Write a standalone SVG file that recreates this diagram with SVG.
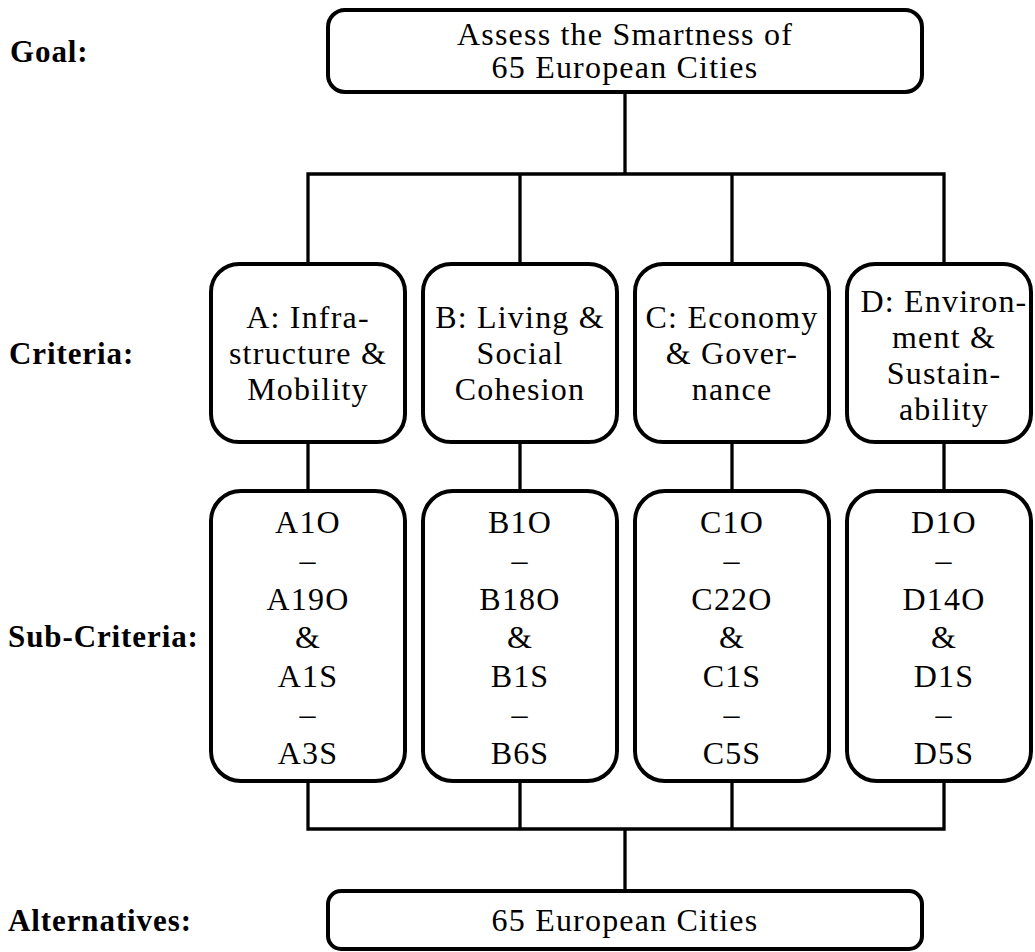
<svg xmlns="http://www.w3.org/2000/svg" width="1035" height="952" viewBox="0 0 1035 952">
<style>
.box{fill:#fff;stroke:#000;stroke-width:4}
.t{font-family:"Liberation Serif","Times New Roman",serif;font-size:32px;letter-spacing:1.2px;text-anchor:middle;fill:#000}
.lbl{font-family:"Liberation Serif","Times New Roman",serif;font-size:31px;font-weight:bold;letter-spacing:0.9px;fill:#000}
.con{fill:none;stroke:#000;stroke-width:3.3;stroke-linecap:square}
</style>
<rect width="1035" height="952" fill="#fff"/>
<g id="labels">
<text class="lbl" x="10" y="62">Goal:</text>
<text class="lbl" x="9" y="364">Criteria:</text>
<text class="lbl" x="8" y="647">Sub-Criteria:</text>
<text class="lbl" x="8" y="931">Alternatives:</text>
</g>
<g id="connectors">
<path class="con" d="M625 93V174M308 174H944M308 174V264M520 174V264M732 174V264M944 174V264"/>
<path class="con" d="M308 442V491M520 442V491M732 442V491M944 442V491"/>
<path class="con" d="M308 781V829M520 781V829M732 781V829M944 781V829M308 829H944M625 829V891"/>
</g>
<g id="goal">
<rect class="box" x="328" y="10" width="594" height="82" rx="17"/>
<text class="t" x="625" y="45">Assess the Smartness of</text>
<text class="t" x="625" y="78">65 European Cities</text>
</g>
<g id="critA">
<rect class="box" x="211" y="264" width="194" height="178" rx="28"/>
<text class="t" x="308" y="328">A: Infra-</text>
<text class="t" x="308" y="364">structure &amp;</text>
<text class="t" x="308" y="400">Mobility</text>
</g>
<g id="critB">
<rect class="box" x="423" y="264" width="194" height="178" rx="28"/>
<text class="t" x="520" y="328">B: Living &amp;</text>
<text class="t" x="520" y="364">Social</text>
<text class="t" x="520" y="400">Cohesion</text>
</g>
<g id="critC">
<rect class="box" x="635" y="264" width="194" height="178" rx="28"/>
<text class="t" x="732" y="328">C: Economy</text>
<text class="t" x="732" y="364">&amp; Gover-</text>
<text class="t" x="732" y="400">nance</text>
</g>
<g id="critD">
<rect class="box" x="847" y="264" width="184" height="178" rx="28"/>
<text class="t" x="944" y="312">D: Environ-</text>
<text class="t" x="944" y="348">ment &amp;</text>
<text class="t" x="944" y="384">Sustain-</text>
<text class="t" x="944" y="420">ability</text>
</g>
<g id="subA">
<rect class="box" x="211" y="491" width="194" height="290" rx="30"/>
<text class="t" x="308" y="533">A1O</text>
<text class="t" x="308" y="571">–</text>
<text class="t" x="308" y="610">A19O</text>
<text class="t" x="308" y="648">&amp;</text>
<text class="t" x="308" y="687">A1S</text>
<text class="t" x="308" y="725">–</text>
<text class="t" x="308" y="764">A3S</text>
</g>
<g id="subB">
<rect class="box" x="423" y="491" width="194" height="290" rx="30"/>
<text class="t" x="520" y="533">B1O</text>
<text class="t" x="520" y="571">–</text>
<text class="t" x="520" y="610">B18O</text>
<text class="t" x="520" y="648">&amp;</text>
<text class="t" x="520" y="687">B1S</text>
<text class="t" x="520" y="725">–</text>
<text class="t" x="520" y="764">B6S</text>
</g>
<g id="subC">
<rect class="box" x="635" y="491" width="194" height="290" rx="30"/>
<text class="t" x="732" y="533">C1O</text>
<text class="t" x="732" y="571">–</text>
<text class="t" x="732" y="610">C22O</text>
<text class="t" x="732" y="648">&amp;</text>
<text class="t" x="732" y="687">C1S</text>
<text class="t" x="732" y="725">–</text>
<text class="t" x="732" y="764">C5S</text>
</g>
<g id="subD">
<rect class="box" x="847" y="491" width="184" height="290" rx="30"/>
<text class="t" x="944" y="533">D1O</text>
<text class="t" x="944" y="571">–</text>
<text class="t" x="944" y="610">D14O</text>
<text class="t" x="944" y="648">&amp;</text>
<text class="t" x="944" y="687">D1S</text>
<text class="t" x="944" y="725">–</text>
<text class="t" x="944" y="764">D5S</text>
</g>
<g id="alternatives">
<rect class="box" x="328" y="891" width="594" height="58" rx="13"/>
<text class="t" x="625" y="931">65 European Cities</text>
</g>
</svg>
